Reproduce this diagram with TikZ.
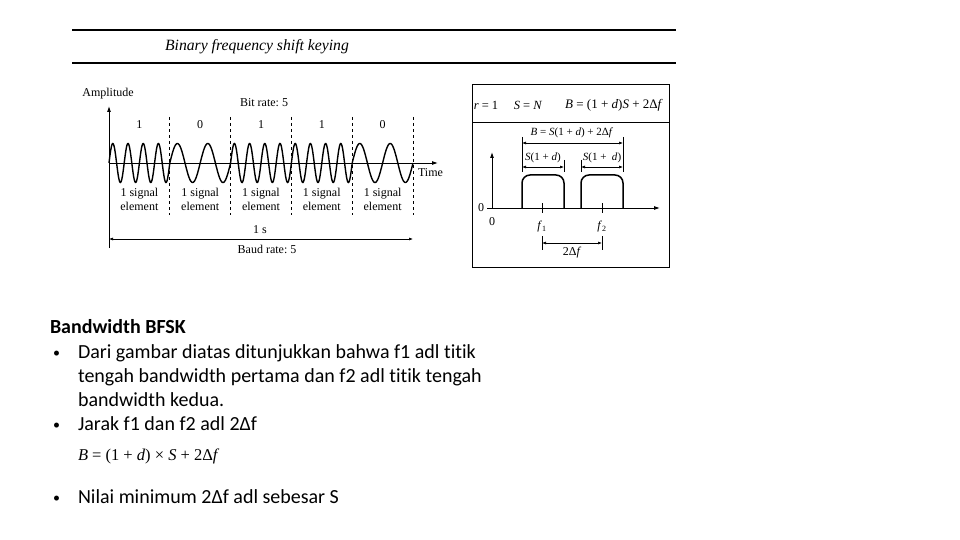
\documentclass[tikz,border=0pt]{standalone}
\usepackage{fontspec}
\setmainfont{Liberation Serif}
\newfontfamily\calibrifont[RawFeature=-liga]{Carlito}
\usetikzlibrary{arrows.meta}
\begin{document}
\frenchspacing
\begin{tikzpicture}[x=1pt,y=-1pt,
  every node/.style={inner sep=0pt,outer sep=0pt},
  diag/.style={font=\fontsize{12}{14}\selectfont},
  boxt/.style={font=\fontsize{11}{13}\selectfont},
  headt/.style={font=\fontsize{12.5}{15}\selectfont},
  ax/.style={line width=0.9pt,-{Latex[length=6pt,width=4pt]}},
  dimarrow/.style={line width=0.6pt,{Latex[length=4pt,width=3pt]}-{Latex[length=4pt,width=3pt]}},
  sepline/.style={dashed,line width=0.8pt},
  wave/.style={line width=1.4pt},
  band/.style={line width=1.5pt,rounded corners=8pt},
  thin/.style={line width=0.6pt},
  rule/.style={line width=1.1pt},
  txt/.style={font=\calibrifont\fontsize{20}{24}\selectfont,anchor=base west},
  bul/.style={font=\calibrifont\fontsize{14}{18}\selectfont,anchor=base west}]
\useasboundingbox (0,0) rectangle (960,540);
\fill[white] (0,0) rectangle (960,540);

% header rules and title
\coordinate (r1a) at (72,30); \coordinate (r1b) at (676,30);
\coordinate (r2a) at (72,63); \coordinate (r2b) at (676,63);
\draw[rule] (r1a) -- (r1b);
\draw[rule] (r2a) -- (r2b);
\node[font=\itshape\fontsize{15.7}{18}\selectfont] (title) at (257,47) {Binary frequency shift keying};

% ---------- left: BFSK time diagram ----------
\coordinate (o) at (109,163);
\coordinate (ytop) at (109,106);
\coordinate (ybot) at (109,248);
\coordinate (xend) at (438,163);
\draw[ax] (ybot) -- (ytop);
\draw[ax] (o) -- (xend);
\node[diag,anchor=west] (time) at (418,173) {Time};
\node[diag] (amp) at (108,94) {Amplitude};
\node[diag] (bitrate) at (264,103) {Bit rate: 5};

\foreach \i/\n in {0/4,1/2,2/4,3/4,4/2}{
  \draw[wave] plot[domain=0:1,samples=160,smooth] ({109+60.8*(\i+\x)},{163-19.5*sin(360*\n*\x)});
}
\foreach \i in {1,...,5}{
  \coordinate (sa\i) at ({109+60.8*\i},117);
  \coordinate (sb\i) at ({109+60.8*\i},215);
  \draw[sepline] (sa\i) -- (sb\i);
}
\foreach \i/\b in {0/1,1/0,2/1,3/1,4/0}{
  \node[diag] (bit\i) at ({109+60.8*(\i+0.5)},125) {\b};
  \node[diag,align=center,font=\fontsize{12}{14}\selectfont] (el\i) at ({109+60.8*(\i+0.5)},199.5) {1 signal\\element};
}
\node[diag] (onesec) at (260,230) {1 s};
\coordinate (ba) at (109,239);
\coordinate (bb) at (413,239);
\draw[dimarrow] (ba) -- (bb);
\node[diag] (baud) at (267,249) {Baud rate: 5};

% ---------- right: bandwidth box ----------
\node[draw,line width=1pt,minimum width=197pt,minimum height=182pt,anchor=north west] (box) at (472,85) {};
\coordinate (dl) at (472,123); \coordinate (dr) at (669,123);
\draw[line width=1pt] (dl) -- (dr);
\node[headt] (hr) at (486,105) {\textit{r} = 1};
\node[headt] (hs) at (528,105) {\textit{S} = \textit{N}};
\node[font=\fontsize{13}{15}\selectfont] (hb) at (614,105) {\textit{B} = (1 + \textit{d})\textit{S} + 2Δ\textit{f}};

\coordinate (fx0) at (487,208); \coordinate (fx1) at (660,208);
\coordinate (fy0) at (492,208); \coordinate (fy1) at (492,152);
\draw[ax] (fx0) -- (fx1);
\draw[ax] (fy0) -- (fy1);
\node[diag] (zl) at (481,208) {0};
\node[diag] (zb) at (492,222) {0};

\coordinate (b1a) at (522,208); \coordinate (b1b) at (522,175);
\coordinate (b1c) at (564,175); \coordinate (b1d) at (564,208);
\draw[band] (b1a) -- (b1b) -- (b1c) -- (b1d);
\coordinate (b2a) at (581,208); \coordinate (b2b) at (581,175);
\coordinate (b2c) at (623,175); \coordinate (b2d) at (623,208);
\draw[band] (b2a) -- (b2b) -- (b2c) -- (b2d);

\coordinate (t1a) at (542,203); \coordinate (t1b) at (542,213);
\coordinate (t2a) at (602,203); \coordinate (t2b) at (602,213);
\draw[thin] (t1a) -- (t1b);
\draw[thin] (t2a) -- (t2b);
\node[diag] (f1) at (542,227) {\textit{f}\textsubscript{1}};
\node[diag] (f2) at (602,227) {\textit{f}\textsubscript{2}};

% dimension lines
\coordinate (e1a) at (522,137); \coordinate (e1b) at (522,172);
\coordinate (e4a) at (623,137); \coordinate (e4b) at (623,172);
\coordinate (e2a) at (564,160); \coordinate (e2b) at (564,172);
\coordinate (e3a) at (581,160); \coordinate (e3b) at (581,172);
\draw[thin] (e1a) -- (e1b);
\draw[thin] (e4a) -- (e4b);
\draw[thin] (e2a) -- (e2b);
\draw[thin] (e3a) -- (e3b);
\coordinate (ba1) at (522,143); \coordinate (ba2) at (623,143);
\draw[dimarrow] (ba1) -- (ba2);
\node[boxt] (blab) at (572,133) {\textit{B} = \textit{S}(1 + \textit{d}) + 2Δ\textit{f}};
\coordinate (sa1) at (522,167); \coordinate (sa2) at (564,167);
\coordinate (sb1) at (581,167); \coordinate (sb2) at (623,167);
\draw[dimarrow] (sa1) -- (sa2);
\draw[dimarrow] (sb1) -- (sb2);
\node[boxt] (slab1) at (543,158) {\textit{S}(1 + \textit{d})};
\node[boxt] (slab2) at (602,158) {\textit{S}(1 + \ \textit{d})};

\coordinate (da1) at (542,236); \coordinate (da2) at (542,250);
\coordinate (db1) at (602,236); \coordinate (db2) at (602,250);
\draw[thin] (da1) -- (da2);
\draw[thin] (db1) -- (db2);
\coordinate (dd1) at (542,243); \coordinate (dd2) at (602,243);
\draw[dimarrow] (dd1) -- (dd2);
\node[diag] (dlab) at (572,253) {2Δ\textit{f}};

% ---------- bottom text ----------
\node[txt,font=\calibrifont\bfseries\fontsize{20}{24}\selectfont] (head) at (50,333) {Bandwidth BFSK};
\node[bul] (u1) at (53,357) {•};
\node[txt] (l1) at (78,358) {Dari gambar diatas ditunjukkan bahwa f1 adl titik};
\node[txt] (l2) at (78,382) {tengah bandwidth pertama dan f2 adl titik tengah};
\node[txt] (l3) at (78,406) {bandwidth kedua.};
\node[bul] (u2) at (53,429) {•};
\node[txt] (l4) at (78,430) {Jarak f1 dan f2 adl 2Δf};
\node[anchor=base west,font=\fontsize{16.5}{18}\selectfont] (form) at (78,460) {\textit{B} = (1 + \textit{d}) × \textit{S} + 2Δ\textit{f}};
\node[bul] (u3) at (53,502) {•};
\node[txt] (l5) at (78,503) {Nilai minimum 2Δf adl sebesar S};
\end{tikzpicture}
\end{document}
